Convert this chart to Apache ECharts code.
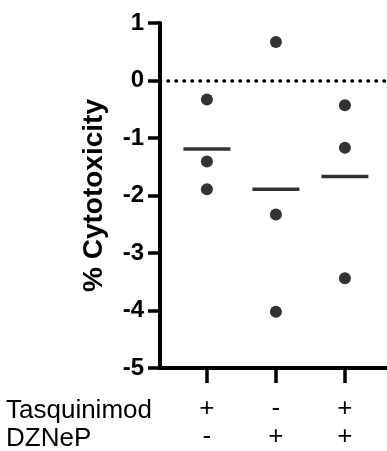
<!DOCTYPE html>
<html>
<head>
<meta charset="utf-8">
<script src="https://cdn.jsdelivr.net/npm/echarts@6/dist/echarts.min.js"></script>
<style>
  html, body { margin: 0; padding: 0; background: #fff; }
  #chart { width: 387px; height: 451px; }
</style>
</head>
<body>
<div id="chart"></div>
<script>
'use strict';

// groups sit at x = 1, 2, 3
var groupX = [1, 2, 3];
var tasquinimod = ['+', '-', '+'];
var dznep = ['-', '+', '+'];

// replicate values
var group1 = [-0.33, -1.41, -1.89];
var group2 = [0.67, -2.33, -4.02];
var group3 = [-0.43, -1.17, -3.44];
var means = [-1.19, -1.89, -1.67];

var font = 'Arial, "Liberation Sans", sans-serif';

var chart = echarts.init(document.getElementById('chart'));

var points = [];
[group1, group2, group3].forEach(function (vals, i) {
  vals.forEach(function (v) {
    points.push([groupX[i], v]);
  });
});

var meanData = means.map(function (m, i) {
  return [groupX[i], m];
});

var option = {
  animation: false,
  backgroundColor: '#fff',
  grid: {
    left: 160,
    right: 0,
    top: 23,
    bottom: 81,
    containLabel: false
  },
  xAxis: {
    type: 'value',
    min: 0.32,
    max: 3.61,
    splitLine: { show: false },
    axisLine: { show: true, onZero: false, lineStyle: { color: '#000', width: 4 } },
    axisTick: {
      show: true,
      customValues: groupX,
      length: 15,
      lineStyle: { color: '#000', width: 3.5 }
    },
    axisLabel: {
      show: true,
      customValues: groupX,
      margin: 27,
      color: '#000',
      fontFamily: font,
      fontSize: 26,
      lineHeight: 28,
      formatter: function (val) {
        var i = groupX.indexOf(val);
        return tasquinimod[i] + '\n' + dznep[i];
      }
    }
  },
  yAxis: {
    type: 'value',
    min: -5,
    max: 1,
    interval: 1,
    splitLine: { show: false },
    axisLine: { show: true, lineStyle: { color: '#000', width: 4 } },
    axisTick: { show: true, length: 12, lineStyle: { color: '#000', width: 3.5 } },
    axisLabel: {
      color: '#000',
      fontFamily: font,
      fontWeight: 'bold',
      fontSize: 24,
      margin: 16
    },
    name: '% Cytotoxicity',
    nameLocation: 'middle',
    nameRotate: 90,
    nameGap: 52,
    nameTextStyle: {
      color: '#000',
      fontFamily: font,
      fontWeight: 'bold',
      fontSize: 28
    }
  },
  graphic: [
    {
      type: 'text',
      left: 6,
      top: 398,
      style: { text: 'Tasquinimod', fill: '#000', font: '26px ' + font }
    },
    {
      type: 'text',
      left: 6,
      top: 426,
      style: { text: 'DZNeP', fill: '#000', font: '26px ' + font }
    }
  ],
  series: [
    {
      type: 'scatter',
      data: points,
      symbol: 'circle',
      symbolSize: 12,
      itemStyle: { color: '#000' },
      markLine: {
        silent: true,
        symbol: 'none',
        label: { show: false },
        lineStyle: { color: '#000', type: [0.5, 7.5], width: 3.5, cap: 'round' },
        data: [{ yAxis: 0 }]
      }
    },
    {
      type: 'scatter',
      data: meanData,
      symbol: 'rect',
      symbolSize: [47, 3.5],
      itemStyle: { color: '#000' }
    }
  ]
};

chart.setOption(option);
</script>
</body>
</html>
